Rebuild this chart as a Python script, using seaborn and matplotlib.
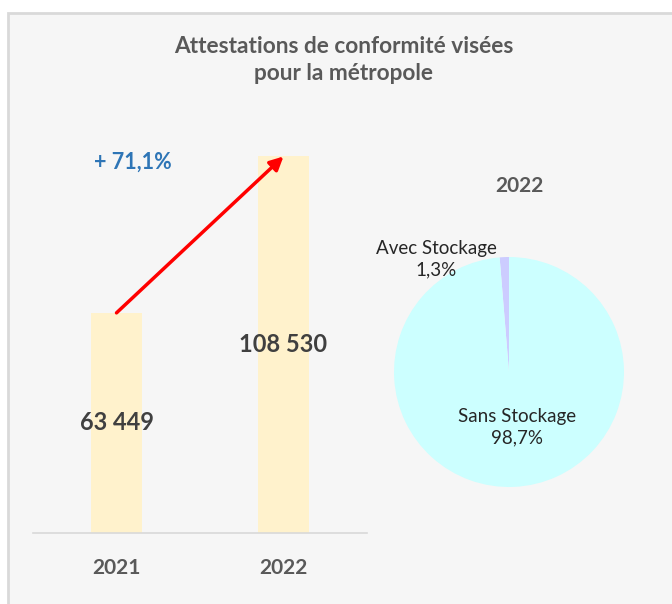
"""Attestations de conformité visées - bar + pie."""

import matplotlib.pyplot as plt
import seaborn as sns
import numpy as np
import pandas as pd
from matplotlib.patches import Rectangle

# Data
years = ['2021', '2022']
attestations = [63449, 108530]
evolution_label = '+ 71,1%'
pie_year = '2022'
pie_labels = ['Avec Stockage', 'Sans Stockage']
pie_values = [1.3, 98.7]

sns.set_theme(style='white')
plt.rcParams['font.family'] = ['Lato', 'DejaVu Sans']

GREY = '#595959'
DARK = '#404040'

fig = plt.figure(figsize=(6.72, 6.04), dpi=100)
fig.patch.set_facecolor('white')

# background panel
panel = Rectangle((8 / 672, -0.02), 1.0, (604 - 13) / 604 + 0.02, transform=fig.transFigure,
                  facecolor='#f6f6f6', edgecolor='#d9d9d9', linewidth=2, zorder=-10)
fig.patches.append(panel)

fig.text(344 / 672, 1 - 60 / 604, 'Attestations de conformité visées\npour la métropole',
         ha='center', va='center', fontsize=16.3, fontweight='bold', color=GREY,
         linespacing=1.4)

# Bar chart
ax = fig.add_axes([33 / 672, 71 / 604, 334 / 672, 399 / 604])
ax.set_facecolor('none')
df = pd.DataFrame({'year': years, 'value': attestations})
sns.barplot(data=df, x='year', y='value', color='#fff2cc', width=0.31,
            saturation=1, linewidth=0, ax=ax)
ax.set_xlim(-0.5, 1.5)
ax.set_ylim(0, 115000)
for i, v in enumerate(attestations):
    ax.text(i, v / 2, f'{v:,}'.replace(',', ' '), ha='center', va='center',
            fontsize=17, fontweight='bold', color=DARK)
ax.annotate('', xy=(1, attestations[1]), xytext=(0, attestations[0]),
            arrowprops=dict(arrowstyle='-|>', color='#ff0000', lw=2.5,
                            mutation_scale=20, shrinkA=0, shrinkB=0))
ax.text(0.1, 107000, evolution_label, ha='center', va='center',
        fontsize=15.5, fontweight='bold', color='#2e75b6')
ax.set_xlabel('')
ax.set_ylabel('')
ax.set_yticks([])
ax.tick_params(axis='x', length=0, pad=18, labelsize=15, colors=GREY)
for lbl in ax.get_xticklabels():
    lbl.set_fontweight('bold')
for s in ['top', 'right', 'left']:
    ax.spines[s].set_visible(False)
ax.spines['bottom'].set_color('#d9d9d9')
ax.spines['bottom'].set_linewidth(1.2)

# Pie chart
pax = fig.add_axes([(509 - 115) / 672, (604 - 487) / 604, 230 / 672, 230 / 604])
pax.pie(pie_values, colors=['#ccccff', '#ccffff'], startangle=90,
        counterclock=True, radius=1, wedgeprops=dict(linewidth=0))
pax.set_xlim(-1, 1)
pax.set_ylim(-1, 1)
pax.set_aspect('equal')
pax.text(-0.63, 0.98, f'{pie_labels[0]}\n{pie_values[0]:.1f}%'.replace('.', ','),
         ha='center', va='center', fontsize=13.5, color='#262626', linespacing=1.3)
pax.text(0.07, -0.48, f'{pie_labels[1]}\n{pie_values[1]:.1f}%'.replace('.', ','),
         ha='center', va='center', fontsize=13.5, color='#262626', linespacing=1.3)
fig.text(519 / 672, 1 - 186 / 604, pie_year, ha='center', va='center',
         fontsize=15, fontweight='bold', color=GREY)

plt.savefig('out.png', dpi=100)
plt.close()
